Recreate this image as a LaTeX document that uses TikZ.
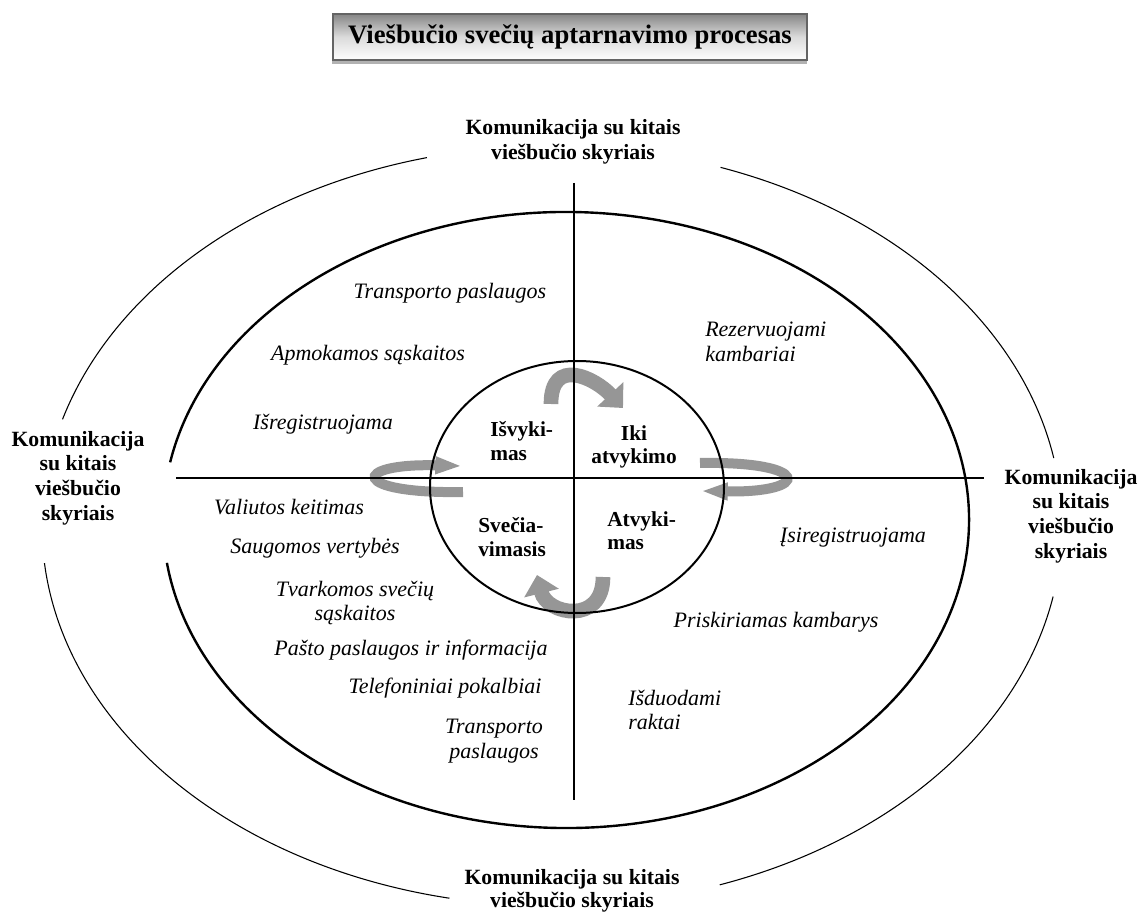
\documentclass[tikz,border=0pt]{standalone}
\usepackage{fontspec}
\setmainfont{Liberation Serif}
\usetikzlibrary{arrows.meta, shadows, positioning}
\definecolor{bandgray}{RGB}{150, 150, 150}
\definecolor{framegray}{RGB}{100, 100, 100}

\begin{document}
\begin{tikzpicture}[
	x=0.75pt, y=-0.75pt,
	>=Stealth,
	% Styles for the labels, rings and curved arrows
	titlebox/.style={draw=framegray, line width=1.5pt, top color=black!48, bottom color=white, middle color=black!14,
		minimum width=356pt, minimum height=35pt, inner sep=0pt, font=\fontsize{20}{23}\selectfont\bfseries,
		drop shadow={shadow xshift=-0.5pt, shadow yshift=-3pt, fill=black!60, opacity=0.5}},
	commtext/.style={font=\fontsize{16.3}{18.5}\selectfont\bfseries, align=center, inner sep=0pt},
	phasetext/.style={font=\fontsize{16}{17.5}\selectfont\bfseries, inner sep=0pt},
	tasktext/.style={font=\fontsize{16.5}{18.5}\selectfont\itshape, align=center, inner sep=0pt},
	axisline/.style={line width=1pt},
	ring/.style={line width=1.8pt},
	outerring/.style={line width=0.8pt},
	band/.style={draw=bandgray, line width=11pt, -{Triangle[length=14pt, width=26pt]}},
	thinband/.style={draw=bandgray, line width=7.5pt, -{Triangle[length=20pt, width=12pt]}}
	]
	\useasboundingbox (0,0) rectangle (1140,916);
	
	% ==========================================
	% 1. TITLE
	% ==========================================
	\node[titlebox] (title) at (570,37) {Viešbučio svečių aptarnavimo procesas};
	
	% ==========================================
	% 2. CURVED ARROWS BETWEEN THE PHASES
	% ==========================================
	\coordinate (topfoot) at (551,404);
	\coordinate (toptip) at (623,408);
	\coordinate (botfoot) at (603,577);
	\coordinate (bottip) at (537,575);
	\coordinate (leftend) at (463,492);
	\coordinate (lefttip) at (462,466);
	\coordinate (rightend) at (700,463);
	\coordinate (righttip) at (701,491);
	
	\draw[band] (topfoot) .. controls +(0,-48) and +(-28,-30) .. (toptip);
	\draw[band] (botfoot) .. controls +(0,48) and +(10,40) .. (bottip);
	\draw[thinband] (leftend) .. controls (350,494) and (350,463) .. (lefttip);
	\draw[thinband] (rightend) .. controls (812,461) and (812,493) .. (righttip);
	
	% ==========================================
	% 3. RINGS AND AXES
	% ==========================================
	\coordinate (outerc) at (552,526);
	\coordinate (midc) at (566,520);
	\coordinate (innerc) at (577,487);
	
	% Outer ring, broken at the four labels
	\draw[outerring] (outerc) ++(-104.2:510 and 380) arc[start angle=-104.2, end angle=-163.7, x radius=510, y radius=380];
	\draw[outerring] (outerc) ++(-70.7:510 and 380) arc[start angle=-70.7, end angle=-10.3, x radius=510, y radius=380];
	\draw[outerring] (outerc) ++(174.4:510 and 380) arc[start angle=174.4, end angle=101.6, x radius=510, y radius=380];
	\draw[outerring] (outerc) ++(10.7:510 and 380) arc[start angle=10.7, end angle=70.8, x radius=510, y radius=380];
	
	% Middle ring, open on the left
	\draw[ring] (midc) ++(-169.2:403 and 308) arc[start angle=-169.2, end angle=172, x radius=403, y radius=308];
	
	% Inner ring
	\draw[ring, line width=1.5pt] (innerc) ellipse[x radius=147, y radius=126];
	
	% Axes
	\coordinate (vtop) at (574,183);
	\coordinate (vbot) at (574,800);
	\coordinate (hleft) at (176,478);
	\coordinate (hright) at (984,478);
	\draw[axisline] (vtop) -- (vbot);
	\draw[axisline] (hleft) -- (hright);
	
	% ==========================================
	% 4. COMMUNICATION LABELS
	% ==========================================
	\node[commtext] (commtop) at (573,142) {Komunikacija su kitais\\viešbučio skyriais};
	\node[commtext] (commleft) at (78,478) {Komunikacija\\su kitais\\viešbučio\\skyriais};
	\node[commtext] (commright) at (1071,516) {Komunikacija\\su kitais\\viešbučio\\skyriais};
	\node[commtext, font=\fontsize{16.3}{17.5}\selectfont\bfseries] (commbot) at (572,891) {Komunikacija su kitais\\viešbučio skyriais};
	
	% ==========================================
	% 5. PHASES (INNER RING)
	% ==========================================
	\node[phasetext, anchor=west, align=left] (isvykimas) at (490,441) {Išvyki-\\mas};
	\node[phasetext, align=center] (ikiatvykimo) at (634,447) {Iki\\atvykimo};
	\node[phasetext, anchor=west, align=left] (sveciavimasis) at (478,537) {Svečia-\\vimasis};
	\node[phasetext, anchor=west, align=left] (atvykimas) at (607,531) {Atvyki-\\mas};
	
	% ==========================================
	% 6. TASKS (MIDDLE RING)
	% ==========================================
	\node[tasktext] (transtop) at (450,293) {Transporto paslaugos};
	\node[tasktext] (apmokamos) at (368,355) {Apmokamos sąskaitos};
	\node[tasktext] (isreg) at (323,424) {Išregistruojama};
	\node[tasktext, anchor=west, align=left] (rezerv) at (705,342) {Rezervuojami\\kambariai};
	
	\node[tasktext] (valiutos) at (289,507) {Valiutos keitimas};
	\node[tasktext] (saugomos) at (315,548) {Saugomos vertybės};
	\node[tasktext] (tvarkomos) at (355,603) {Tvarkomos svečių\\sąskaitos};
	\node[tasktext] (pasto) at (411,650) {Pašto paslaugos ir informacija};
	\node[tasktext] (telefon) at (445,688) {Telefoniniai pokalbiai};
	\node[tasktext] (transbot) at (494,741) {Transporto\\paslaugos};
	
	\node[tasktext] (isireg) at (853,538) {Įsiregistruojama};
	\node[tasktext] (priskir) at (776,622) {Priskiriamas kambarys};
	\node[tasktext, anchor=west, align=left] (raktai) at (628,710) {Išduodami\\raktai};
	
\end{tikzpicture}
\end{document}
